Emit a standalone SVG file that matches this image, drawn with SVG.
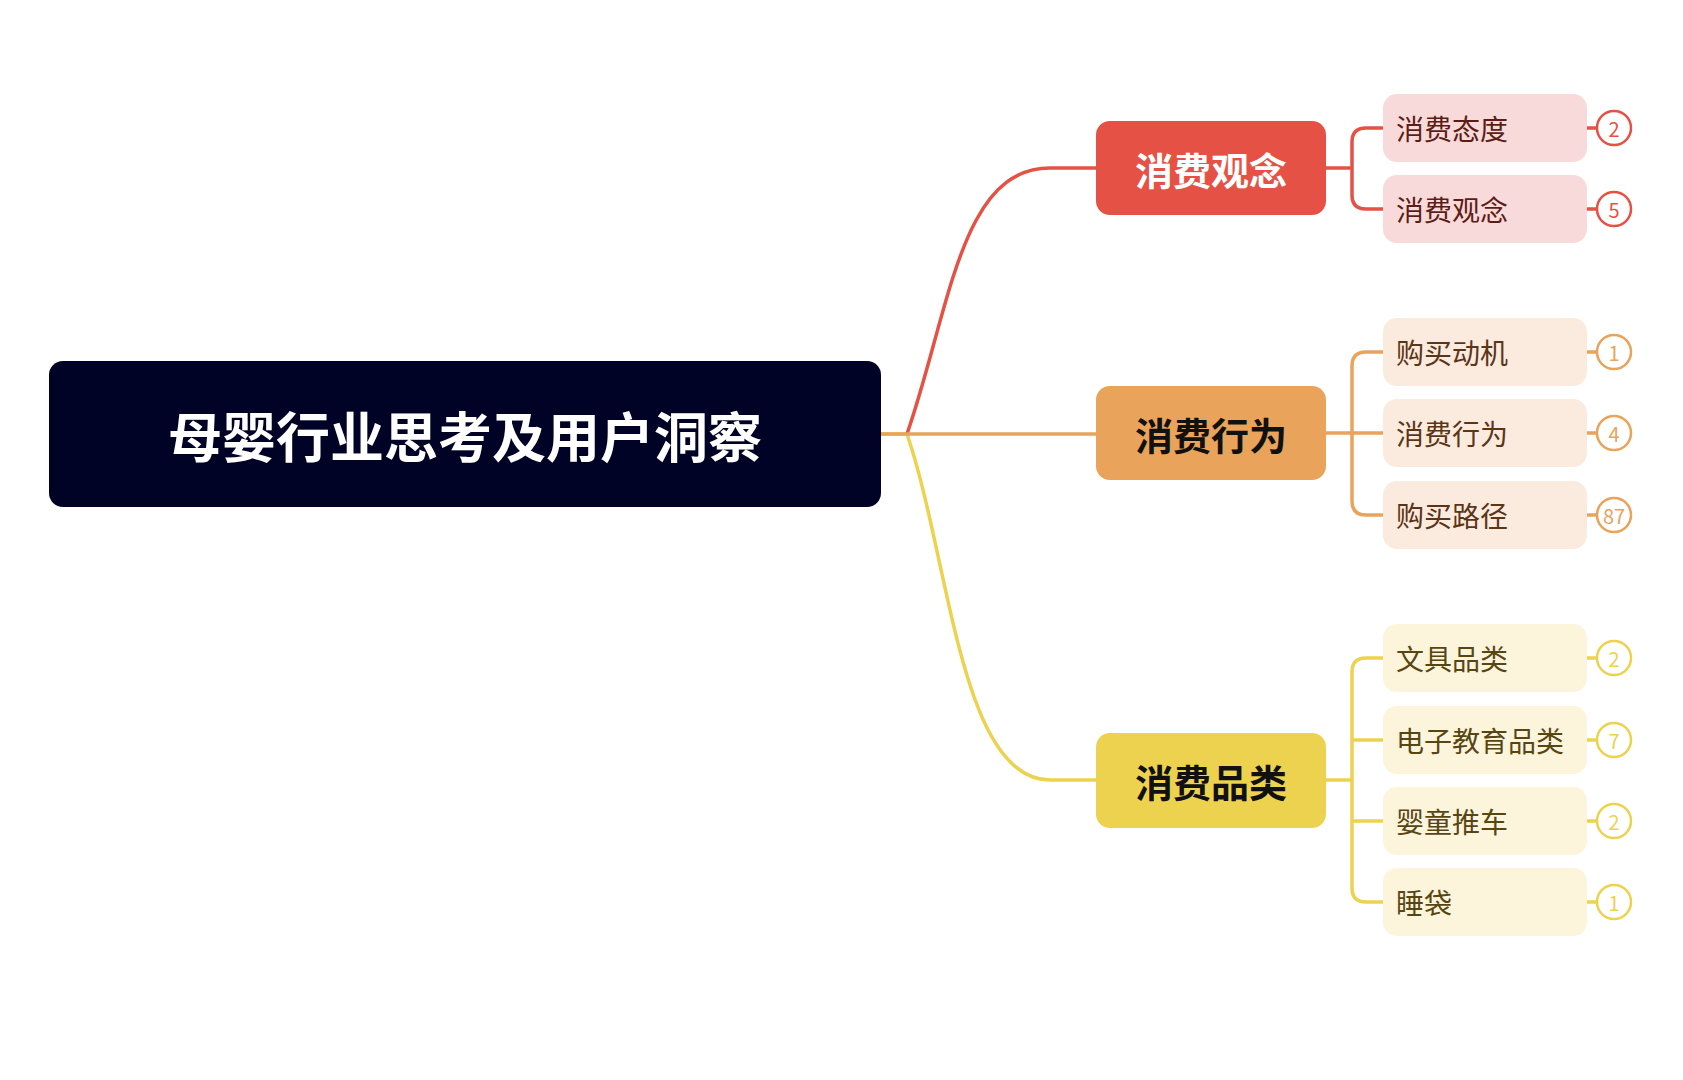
<svg xmlns="http://www.w3.org/2000/svg" width="1683" height="1080" viewBox="0 0 1683 1080">
<style>
text{font-family:"Noto Sans CJK SC","Noto Sans",sans-serif;dominant-baseline:central}
.main{font-size:38px;font-weight:bold;text-anchor:middle}
.sub{font-size:28px}
.num{font-size:20px;text-anchor:middle}
.c{fill:none;stroke-width:3.5}
.r{stroke:#E55245}.o{stroke:#E9A35A}.y{stroke:#EDD24F}
.circ{fill:#fff;stroke-width:2.5}
</style>
<rect width="1683" height="1080" fill="#fff"/>
<g id="connectors">
<path class="c y" d="M881 434 H907 C950 560 960 780 1050 780 H1096"/>
<path class="c r" d="M907 434 C950 310 960 168 1050 168 H1096"/>
<path class="c o" d="M881 434 H1096"/>
<path class="c r" d="M1326 168 H1352 M1383 128 H1366 Q1352 128 1352 142 V195 Q1352 209 1366 209 H1383"/>
<path class="c o" d="M1326 433 H1383 M1383 352 H1366 Q1352 352 1352 366 V501 Q1352 515 1366 515 H1383"/>
<path class="c y" d="M1326 780 H1352 M1383 658 H1366 Q1352 658 1352 672 V888 Q1352 902 1366 902 H1383 M1352 740 H1383 M1352 821 H1383"/>
<path class="c r" d="M1587 128 H1597 M1587 209 H1597"/>
<path class="c o" d="M1587 352 H1597 M1587 433 H1597 M1587 515 H1597"/>
<path class="c y" d="M1587 658 H1597 M1587 740 H1597 M1587 821 H1597 M1587 902 H1597"/>
</g>
<g id="root"><rect x="49" y="361" width="832" height="146" rx="14" fill="#000325"/><text x="465" y="434" font-size="54" font-weight="bold" fill="#fff" text-anchor="middle">母婴行业思考及用户洞察</text></g>
<g id="n1"><rect x="1096" y="121" width="230" height="94" rx="14" fill="#E55245"/><text class="main" x="1211" y="168" fill="#fff">消费观念</text></g>
<g id="n2"><rect x="1096" y="386" width="230" height="94" rx="14" fill="#E9A35A"/><text class="main" x="1211" y="433" fill="#111">消费行为</text></g>
<g id="n3"><rect x="1096" y="733" width="230" height="95" rx="14" fill="#EDD24F"/><text class="main" x="1211" y="780" fill="#111">消费品类</text></g>
<g id="s1"><rect x="1383" y="94" width="204" height="68" rx="14" fill="#F9DADA"/><text class="sub" x="1396" y="128" fill="#5c1d16">消费态度</text><circle class="circ r" cx="1614" cy="128" r="17"/><text class="num" x="1614" y="128" fill="#E55245">2</text></g>
<g id="s2"><rect x="1383" y="175" width="204" height="68" rx="14" fill="#F9DADA"/><text class="sub" x="1396" y="209" fill="#5c1d16">消费观念</text><circle class="circ r" cx="1614" cy="209" r="17"/><text class="num" x="1614" y="209" fill="#E55245">5</text></g>
<g id="s3"><rect x="1383" y="318" width="204" height="68" rx="14" fill="#FBEBDF"/><text class="sub" x="1396" y="352" fill="#5c3416">购买动机</text><circle class="circ o" cx="1614" cy="352" r="17"/><text class="num" x="1614" y="352" fill="#E9A35A">1</text></g>
<g id="s4"><rect x="1383" y="399" width="204" height="68" rx="14" fill="#FBEBDF"/><text class="sub" x="1396" y="433" fill="#5c3416">消费行为</text><circle class="circ o" cx="1614" cy="433" r="17"/><text class="num" x="1614" y="433" fill="#E9A35A">4</text></g>
<g id="s5"><rect x="1383" y="481" width="204" height="68" rx="14" fill="#FBEBDF"/><text class="sub" x="1396" y="515" fill="#5c3416">购买路径</text><circle class="circ o" cx="1614" cy="515" r="17"/><text class="num" x="1614" y="515" fill="#E9A35A">87</text></g>
<g id="s6"><rect x="1383" y="624" width="204" height="68" rx="14" fill="#FDF4DC"/><text class="sub" x="1396" y="658" fill="#574612">文具品类</text><circle class="circ y" cx="1614" cy="658" r="17"/><text class="num" x="1614" y="658" fill="#EDD24F">2</text></g>
<g id="s7"><rect x="1383" y="706" width="204" height="68" rx="14" fill="#FDF4DC"/><text class="sub" x="1396" y="740" fill="#574612">电子教育品类</text><circle class="circ y" cx="1614" cy="740" r="17"/><text class="num" x="1614" y="740" fill="#EDD24F">7</text></g>
<g id="s8"><rect x="1383" y="787" width="204" height="68" rx="14" fill="#FDF4DC"/><text class="sub" x="1396" y="821" fill="#574612">婴童推车</text><circle class="circ y" cx="1614" cy="821" r="17"/><text class="num" x="1614" y="821" fill="#EDD24F">2</text></g>
<g id="s9"><rect x="1383" y="868" width="204" height="68" rx="14" fill="#FDF4DC"/><text class="sub" x="1396" y="902" fill="#574612">睡袋</text><circle class="circ y" cx="1614" cy="902" r="17"/><text class="num" x="1614" y="902" fill="#EDD24F">1</text></g>
</svg>
